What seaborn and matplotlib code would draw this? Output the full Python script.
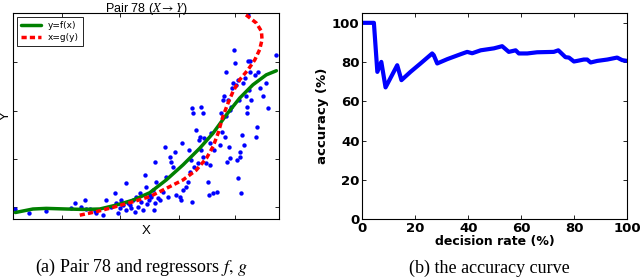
import numpy as np
import pandas as pd
import matplotlib
matplotlib.use("Agg")
import matplotlib.pyplot as plt
import seaborn as sns

# ---- data ----
# scatter of pair 78 (arbitrary units, 0-100 on both axes)
pair_x = [0.9, 6.0, 12.5, 21.7, 23.2, 25.7, 26.9, 27.6, 28.8, 30.7, 31.3, 33.8, 35.1, 37.0,
          38.2, 38.8, 39.5, 40.1, 40.7, 41.4, 42.4, 42.6, 43.2, 43.9, 44.5, 45.1, 45.7, 46.4,
          47.0, 47.6, 48.2, 48.9, 49.7, 50.1, 50.4, 51.0, 51.4, 52.0, 52.6, 52.9, 53.3, 53.5,
          53.9, 54.5, 55.1, 56.4, 57.0, 57.6, 58.3, 58.9, 59.5, 60.2, 60.8, 61.4, 62.7, 63.3,
          63.5, 63.9, 65.2, 65.8, 66.2, 66.4, 67.0, 67.4, 67.4, 67.7, 68.0, 68.9, 69.5, 69.9,
          70.2, 70.8, 71.4, 70.8, 71.4, 71.9, 72.7, 73.3, 73.7, 73.9, 74.2, 74.6, 75.2, 75.4,
          76.8, 77.7, 78.3, 78.7, 79.0, 79.2, 79.6, 79.9, 80.2, 80.5, 80.8, 81.2, 81.5, 81.7,
          82.1, 82.5, 82.7, 83.1, 83.6, 84.0, 84.2, 84.5, 84.7, 85.0, 85.2, 85.5, 85.8, 86.2,
          86.5, 86.8, 87.1, 87.5, 87.8, 88.1, 88.3, 88.7, 89.0, 89.2, 89.6, 90.9, 91.2, 91.7,
          92.1, 92.7, 94.0, 95.2, 96.0, 98.7, 88.3]
pair_y = [4.9, 3.1, 3.7, 5.2, 7.6, 5.7, 9.2, 4.7, 4.7, 4.1, 2.8, 1.9, 9.1, 6.0,
          12.8, 7.6, 2.8, 5.2, 9.2, 6.8, 17.3, 4.4, 7.9, 6.8, 5.2, 9.2, 3.6, 10.9,
          6.0, 12.5, 8.4, 4.4, 21.4, 15.7, 7.3, 9.2, 11.7, 10.9, 14.1, 4.4, 7.6, 27.9,
          18.2, 10.0, 9.2, 13.3, 35.2, 20.6, 10.9, 30.3, 27.9, 25.4, 32.7, 11.7, 10.9, 9.2,
          36.8, 14.1, 15.7, 18.2, 33.5, 23.0, 28.7, 8.4, 53.8, 51.4, 25.4, 43.3, 27.1, 38.4,
          40.0, 54.6, 51.4, 33.5, 30.3, 39.2, 27.1, 18.2, 11.7, 26.3, 36.8, 41.7, 12.5, 33.5,
          13.3, 36.0, 51.4, 42.5, 57.9, 59.5, 40.0, 71.6, 49.8, 27.9, 57.9, 35.2, 29.5, 53.0,
          54.6, 63.5, 66.0, 82.2, 75.7, 65.2, 28.7, 19.8, 67.6, 57.9, 32.7, 30.3, 12.8, 40.8,
          66.0, 36.0, 68.4, 59.5, 54.6, 51.4, 76.5, 62.7, 71.6, 76.5, 57.9, 70.0, 40.0, 44.9,
          71.6, 63.5, 59.5, 66.0, 53.8, 79.7, 99.2]

# regressor y = f(x)
f_x = [0.9, 7.5, 12.5, 20.1, 26.3, 32.6, 38.8, 45.1, 51.4, 57.6, 63.9, 70.2, 75.2, 80.2,
       85.2, 90.2, 95.2, 99.0]
f_y = [3.2, 4.9, 5.2, 4.9, 4.7, 4.9, 6.8, 9.2, 12.8, 19.0, 26.3, 34.4, 41.7, 50.6,
       58.7, 65.2, 70.0, 72.0]

# regressor x = g(y)
g_x = [25.1, 31.3, 37.6, 45.1, 51.4, 57.6, 63.9, 68.9, 72.7, 75.2, 77.1, 78.9, 80.8, 82.7,
       85.2, 88.3, 90.9, 92.7, 93.6, 93.4, 91.5, 88.3, 87.1]
g_y = [1.9, 3.6, 5.7, 8.4, 10.9, 14.9, 19.0, 23.8, 29.5, 35.2, 41.7, 49.8, 56.2, 61.9,
       67.6, 72.4, 77.3, 82.2, 87.0, 91.1, 95.1, 98.4, 99.5]

# accuracy curve
rate = [0, 4.4, 5.7, 7.2, 8.8, 13.2, 14.8, 18.2, 22.0, 26.4, 27.0, 28.3, 32.1, 37.1, 39.6,
        41.5, 44.7, 49.7, 52.8, 53.5, 55.3, 57.9, 59.1, 62.3, 66.0, 72.3, 74.0, 76.7, 78.0,
        79.9, 81.1, 83.6, 84.9, 86.2, 88.7, 92.5, 96.2, 98.1, 100]
accuracy = [100, 100, 75.0, 80.1, 67.1, 78.4, 70.8, 75.0, 79.3, 84.4, 83.5, 79.3, 81.5, 84.0, 85.2,
            84.5, 86.0, 87.0, 88.1, 87.3, 85.2, 86.0, 84.4, 84.4, 85.0, 85.2, 86.0, 82.5, 82.3,
            80.3, 80.6, 81.3, 81.3, 79.8, 80.6, 81.3, 82.3, 81.0, 80.6]

sns.set_style("ticks", {"xtick.direction": "in", "ytick.direction": "in",
                        "axes.edgecolor": "black", "text.color": "black",
                        "xtick.color": "black", "ytick.color": "black",
                        "axes.labelcolor": "black"})
plt.rcParams["font.family"] = ["DejaVu Sans"]
plt.rcParams["mathtext.fontset"] = "stix"

fig = plt.figure(figsize=(6.4, 2.77), dpi=100)
ax1 = fig.add_axes([0.0203, 0.209, 0.4157, 0.744])
ax2 = fig.add_axes([0.566, 0.209, 0.414, 0.744])

# left panel
sns.scatterplot(x=pair_x, y=pair_y, ax=ax1, color="#0000ff", s=10, linewidth=0, zorder=2)
sns.lineplot(x=f_x, y=f_y, ax=ax1, color="#008000", lw=2.5, sort=False, estimator=None,
             label="y=f(x)", zorder=3)
sns.lineplot(x=g_x, y=g_y, ax=ax1, color="#ff0000", lw=2.5, sort=False, estimator=None,
             label="x=g(y)", zorder=4)
ax1.lines[-1].set_linestyle((0, (1.5, 0.9)))
ax1.set_xlim(0, 100)
ax1.set_ylim(0, 100)
ax1.set_xticks([18.5, 40.4, 62.3, 83.6])
ax1.set_yticks([5.7, 29.0, 52.5, 76.0])
ax1.set_xticklabels([])
ax1.set_yticklabels([])
ax1.tick_params(top=True, right=True, length=3, width=0.6)
for sp in ax1.spines.values():
    sp.set_linewidth(0.8)
ax1.set_xlabel("X", fontsize=9.5, family="Liberation Sans", labelpad=1)
ax1.set_ylabel("Y", fontsize=9.5, family="Liberation Sans")
ax1.yaxis.set_label_coords(-0.006, 0.5)
ax1.set_title(r"Pair 78 ($X \rightarrow Y$)", fontsize=9, family="Liberation Sans", pad=1)
leg = ax1.legend(loc="upper left", fontsize=6.5, frameon=True, fancybox=False,
                 borderaxespad=0.4, handlelength=2.2, borderpad=0.45, labelspacing=0.35)
leg.get_frame().set_edgecolor("black")
leg.get_frame().set_linewidth(0.6)
leg.get_frame().set_alpha(1)

# right panel
sns.lineplot(x=rate, y=accuracy, ax=ax2, color="#0000ff", lw=3, sort=False, estimator=None)
ax2.set_xlim(0, 100)
ax2.set_ylim(0, 105)
ax2.set_xticks([0, 20, 40, 60, 80, 100])
ax2.set_yticks([0, 20, 40, 60, 80, 100])
ax2.tick_params(top=True, right=True, length=3, width=0.6, labelsize=9.5, pad=2)
for lab in ax2.get_xticklabels() + ax2.get_yticklabels():
    lab.set_fontweight("bold")
for sp in ax2.spines.values():
    sp.set_linewidth(0.8)
ax2.set_xlabel("decision rate (%)", fontsize=9, fontweight="bold", labelpad=0)
ax2.set_ylabel("accuracy (%)", fontsize=9.5, fontweight="bold", labelpad=2)

# captions
fig.text(0.222, 0.033, r"(a) Pair 78 and regressors $f,\,g$", ha="center", va="center",
         fontsize=13, family="Liberation Serif")
fig.text(0.765, 0.033, "(b) the accuracy curve", ha="center", va="center",
         fontsize=13, family="Liberation Serif")

fig.savefig("out.png", dpi=100)
